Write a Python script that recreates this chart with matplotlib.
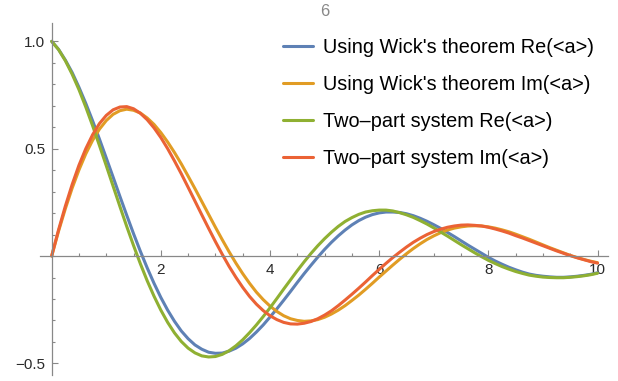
import numpy as np
import matplotlib.pyplot as plt
from matplotlib.ticker import MultipleLocator, FixedLocator

# values every 0.125 along the x axis (0 .. 10)
wick_re = [1.000, 0.963, 0.913, 0.855, 0.786, 0.711, 0.630, 0.545, 0.457, 0.368,
           0.278, 0.190, 0.104, 0.022, -0.055, -0.127, -0.193, -0.252, -0.304, -0.349,
           -0.385, -0.414, -0.434, -0.448, -0.453, -0.452, -0.443, -0.429, -0.409, -0.384,
           -0.354, -0.321, -0.284, -0.246, -0.206, -0.165, -0.123, -0.082, -0.043, -0.005,
           0.031, 0.064, 0.094, 0.121, 0.145, 0.165, 0.181, 0.193, 0.201, 0.205,
           0.205, 0.203, 0.197, 0.188, 0.176, 0.162, 0.146, 0.129, 0.110, 0.091,
           0.071, 0.051, 0.032, 0.013, -0.006, -0.023, -0.038, -0.052, -0.064, -0.075,
           -0.084, -0.090, -0.094, -0.097, -0.099, -0.099, -0.097, -0.094, -0.090, -0.085,
           -0.078]
wick_im = [0.000, 0.115, 0.220, 0.316, 0.401, 0.476, 0.539, 0.591, 0.631, 0.660,
           0.677, 0.684, 0.679, 0.666, 0.643, 0.613, 0.575, 0.531, 0.482, 0.429,
           0.372, 0.314, 0.254, 0.194, 0.134, 0.076, 0.020, -0.033, -0.082, -0.127,
           -0.168, -0.203, -0.233, -0.258, -0.278, -0.292, -0.300, -0.304, -0.302, -0.296,
           -0.285, -0.270, -0.252, -0.231, -0.207, -0.182, -0.155, -0.127, -0.098, -0.070,
           -0.042, -0.015, 0.011, 0.035, 0.057, 0.077, 0.094, 0.109, 0.121, 0.130,
           0.136, 0.140, 0.141, 0.140, 0.136, 0.130, 0.122, 0.113, 0.102, 0.090,
           0.078, 0.065, 0.052, 0.039, 0.027, 0.015, 0.003, -0.007, -0.016, -0.024,
           -0.031]
two_re = [1.000, 0.962, 0.910, 0.847, 0.775, 0.694, 0.607, 0.515, 0.421, 0.326,
          0.231, 0.138, 0.049, -0.036, -0.115, -0.187, -0.252, -0.309, -0.358, -0.398,
          -0.429, -0.451, -0.465, -0.470, -0.468, -0.458, -0.441, -0.418, -0.390, -0.357,
          -0.321, -0.282, -0.241, -0.198, -0.154, -0.111, -0.068, -0.027, 0.012, 0.048,
          0.081, 0.111, 0.138, 0.161, 0.179, 0.194, 0.205, 0.211, 0.214, 0.214,
          0.210, 0.202, 0.192, 0.180, 0.165, 0.149, 0.131, 0.112, 0.093, 0.073,
          0.053, 0.034, 0.015, -0.003, -0.020, -0.035, -0.049, -0.061, -0.072, -0.081,
          -0.089, -0.094, -0.098, -0.100, -0.101, -0.101, -0.099, -0.096, -0.092, -0.087,
          -0.080]
two_im = [0.000, 0.121, 0.232, 0.333, 0.423, 0.500, 0.565, 0.617, 0.655, 0.681,
          0.694, 0.696, 0.686, 0.665, 0.635, 0.597, 0.552, 0.500, 0.443, 0.383,
          0.320, 0.256, 0.192, 0.129, 0.067, 0.008, -0.048, -0.099, -0.146, -0.188,
          -0.224, -0.254, -0.278, -0.296, -0.309, -0.316, -0.317, -0.313, -0.305, -0.292,
          -0.275, -0.255, -0.231, -0.205, -0.178, -0.150, -0.121, -0.091, -0.062, -0.034,
          -0.007, 0.018, 0.042, 0.064, 0.083, 0.100, 0.114, 0.125, 0.134, 0.140,
          0.144, 0.145, 0.143, 0.140, 0.134, 0.126, 0.117, 0.107, 0.095, 0.084,
          0.072, 0.060, 0.048, 0.036, 0.024, 0.013, 0.002, -0.008, -0.017, -0.026,
          -0.033]
t = np.arange(len(two_re)) * 0.125

labels = ["Using Wick's theorem Re(<a>)", "Using Wick's theorem Im(<a>)",
          "Two\u2013part system Re(<a>)", "Two\u2013part system Im(<a>)"]
colors = ['#5E81B5', '#E19C24', '#8FB032', '#EB6235']

plt.rcParams['font.family'] = ['Liberation Sans', 'DejaVu Sans']

fig = plt.figure(figsize=(6.18, 3.81), dpi=100)
ax = fig.add_axes([0.0647, 0.0152, 0.919, 0.9242])

for series, lab, col in zip([wick_re, wick_im, two_re, two_im], labels, colors):
    ax.plot(t, series, color=col, lw=2.2, label=lab, solid_capstyle='round',
            solid_joinstyle='round')

ax.set_xlim(-0.214, 10.19)
ax.set_ylim(-0.555, 1.085)

for side in ['top', 'right']:
    ax.spines[side].set_visible(False)
ax.spines['left'].set_position(('data', 0))
ax.spines['bottom'].set_position(('data', 0))
for side in ['left', 'bottom']:
    ax.spines[side].set_color('#888888')
    ax.spines[side].set_linewidth(0.9)

ax.xaxis.set_major_locator(FixedLocator([2, 4, 6, 8, 10]))
ax.xaxis.set_minor_locator(MultipleLocator(0.5))
ax.yaxis.set_major_locator(FixedLocator([-0.5, 0.5, 1.0]))
ax.yaxis.set_minor_locator(MultipleLocator(0.1))
ax.set_yticklabels(['\u22120.5', '0.5', '1.0'])

ax.tick_params(which='both', direction='in', color='#888888', width=0.8,
               labelsize=11, labelcolor='#2a2a2a')
ax.tick_params(which='major', length=4)
ax.tick_params(which='minor', length=2.5)
ax.tick_params(axis='x', pad=5)
ax.tick_params(axis='y', pad=4.5)

ax.legend(loc='upper left', bbox_to_anchor=(283 / 618, 1 - 38 / 381),
          bbox_transform=fig.transFigure, frameon=False, fontsize=14.3,
          handlelength=1.5, handletextpad=0.5, labelspacing=0.9,
          borderpad=0, borderaxespad=0)

fig.text(325 / 618, 1 - 12 / 381, '6', ha='center', va='center',
         fontsize=12, color='#888888')

fig.savefig('out.png', dpi=100)
